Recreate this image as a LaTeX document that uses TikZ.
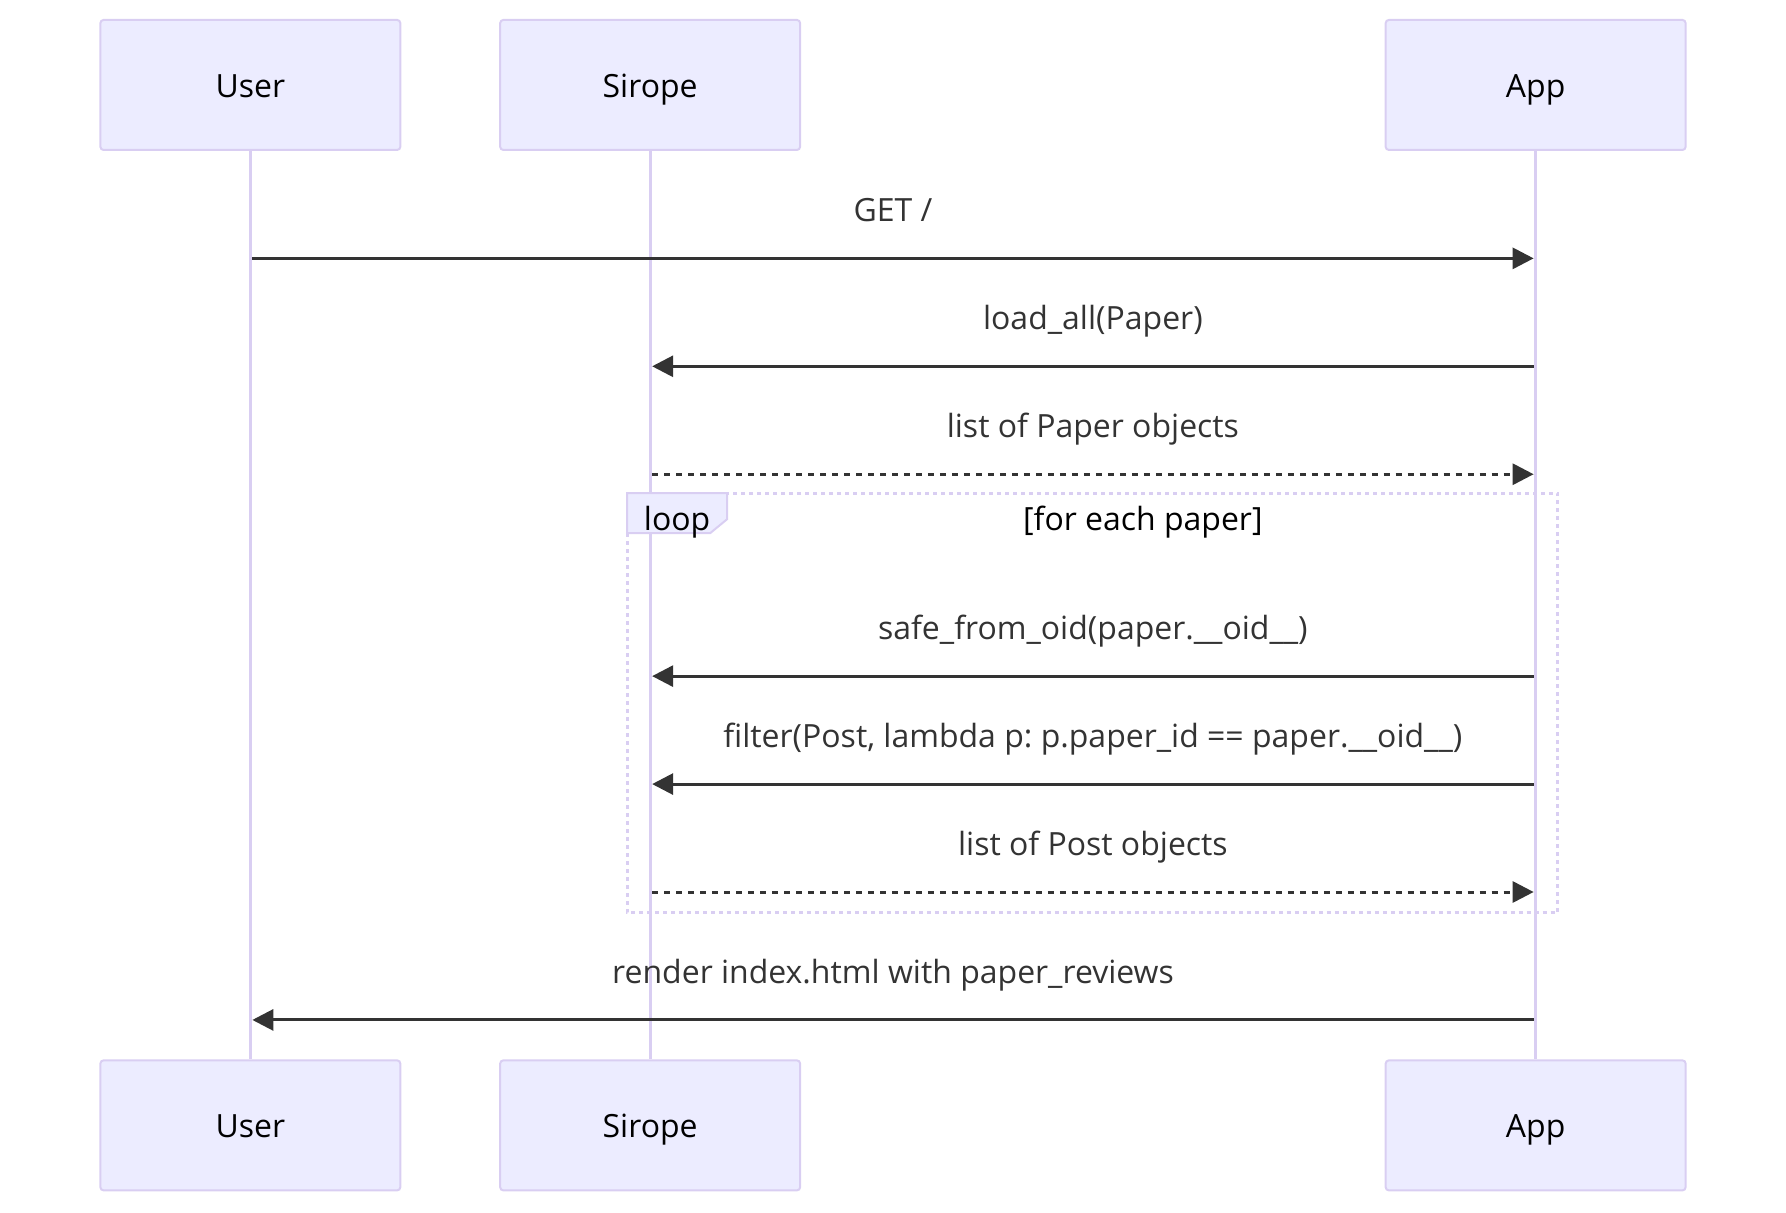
\documentclass[tikz,border=0pt]{standalone}
\usepackage{fontspec}
\setmainfont{Open Sans}
\usetikzlibrary{shapes.misc, shapes, arrows.meta}
\usetikzlibrary{positioning}

\definecolor{actorFill}{HTML}{ECECFF}
\definecolor{actorLine}{HTML}{D9CEF2}
\definecolor{msgColor}{HTML}{333333}
\frenchspacing

\begin{document}
\begin{tikzpicture}[x=0.4pt, y=-0.4pt,
	actor/.style={draw=actorLine, line width=0.8pt, fill=actorFill, rounded corners=1.2pt,
		minimum width=120pt, minimum height=52pt, inner sep=0pt,
		text height=0.97em, text depth=0pt, font=\fontsize{12.8pt}{15pt}\selectfont},
	lifeline/.style={draw=actorLine, line width=1.3pt},
	msglabel/.style={text=msgColor, anchor=base, inner sep=0pt, font=\fontsize{12.8pt}{15pt}\selectfont},
	call/.style={draw=msgColor, line width=1.2pt, shorten >=0.8pt, shorten <=0.8pt,
		-{Triangle[length=8.4pt, width=8.4pt]}},
	reply/.style={call, dash pattern=on 2.4pt off 2.4pt},
	loopline/.style={draw=actorLine, line width=1.2pt, dash pattern=on 1.6pt off 1.6pt},
	looplabel/.style={anchor=base, inner sep=0pt, font=\fontsize{12.8pt}{15pt}\selectfont}]
		\draw[use as bounding box, transparent] (0,0) rectangle (1786,1212);

		% Define the macro.
		% 1st argument: Name of the sending actor.
		% 2nd argument: Name of the receiving actor.
		% 3rd argument: Y position of the arrow.
		% 4th argument: Style of the arrow (call or reply).
		% 5th argument: Text placed above the arrow.
		% 6th argument: Name prefix for the end points.
		\newcommand{\seqArrow}[6]{
			\coordinate (#6-from) at (#1.south |- 0,#3); % start on the sender lifeline
			\coordinate (#6-to) at (#2.south |- 0,#3);   % end on the receiver lifeline
			\draw[#4] (#6-from) -- (#6-to);
			\path (#6-from) -- (#6-to) node[midway, yshift=14.6pt, msglabel] (#6-label) {#5};
		}

		% ACTORS
		\node[actor] (user) at (250,84.5) {User};
		\node[actor] (sirope) at (650,84.5) {Sirope};
		\node[actor] (app) at (1536,84.5) {App};
		\node[actor] (userEnd) at (250,1125.5) {User};
		\node[actor] (siropeEnd) at (650,1125.5) {Sirope};
		\node[actor] (appEnd) at (1536,1125.5) {App};

		% Lifelines
		\draw[lifeline] (user) -- (userEnd);
		\draw[lifeline] (sirope) -- (siropeEnd);
		\draw[lifeline] (app) -- (appEnd);

		% Loop frame
		\draw[loopline] (627,493) rectangle (1558,913);
		\filldraw[draw=actorLine, fill=actorFill, line width=0.8pt] (627,493) -- (727,493) -- (727,519) -- (710,533) -- (627,533) -- cycle;
		\node[looplabel] (loopName) at (677,530) {loop};
		\node[looplabel] (loopCond) at (1143,530) {[for each paper]};

		% Messages
		\seqArrow{user}{app}{258}{call}{GET /}{get}
		\seqArrow{app}{sirope}{366}{call}{load\_all(Paper)}{load}
		\seqArrow{sirope}{app}{474}{reply}{list of Paper objects}{papers}
		\seqArrow{app}{sirope}{676}{call}{safe\_from\_oid(paper.\_\_oid\_\_)}{safe}   % loop
		\seqArrow{app}{sirope}{784}{call}{filter(Post, lambda p: p.paper\_id == paper.\_\_oid\_\_)}{filter} % loop
		\seqArrow{sirope}{app}{892}{reply}{list of Post objects}{posts}  % loop
		\seqArrow{app}{user}{1020}{call}{render index.html with paper\_reviews}{render}

	\end{tikzpicture}
\end{document}
